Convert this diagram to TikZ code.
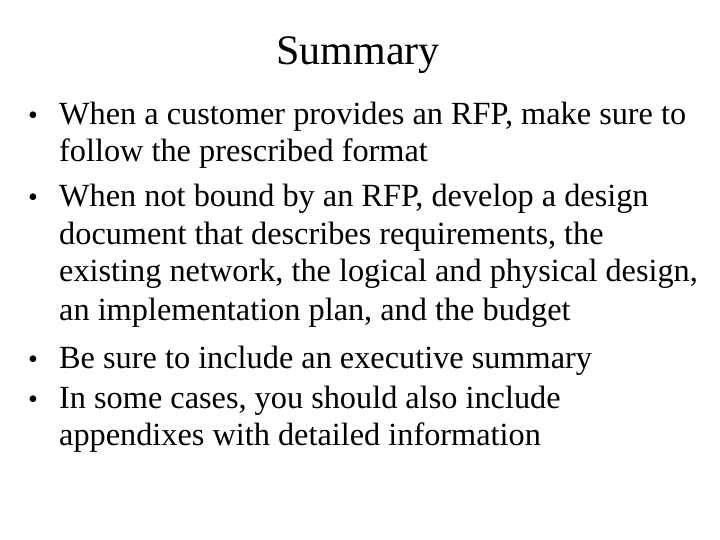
\documentclass[tikz,border=0pt]{standalone}
\usepackage{fontspec}
\setmainfont{Liberation Serif}
\begin{document}
\begin{tikzpicture}[x=1pt,y=-1pt,
  ln/.style={anchor=base west,inner sep=0pt,font=\fontsize{32.3}{34}\selectfont},
  bul/.style={anchor=base west,inner sep=0pt,font=\fontsize{28}{30}\selectfont}]
\useasboundingbox (0,0) rectangle (720,540);
\node[anchor=base,inner sep=0pt,font=\fontsize{42}{46}\selectfont] (title) at (358,65) {Summary};
\node[bul] (b1) at (28,125) {•};
\node[ln] (l1) at (59,125) {When a customer provides an RFP, make sure to};
\node[ln] (l2) at (59,162) {follow the prescribed format};
\node[bul] (b2) at (28,207) {•};
\node[ln] (l3) at (59,207) {When not bound by an RFP, develop a design};
\node[ln] (l4) at (59,244) {document that describes requirements, the};
\node[ln] (l5) at (59,281) {existing network, the logical and physical design,};
\node[ln] (l6) at (59,320) {an implementation plan, and the budget};
\node[bul] (b3) at (28,368) {•};
\node[ln] (l7) at (59,368) {Be sure to include an executive summary};
\node[bul] (b4) at (28,408) {•};
\node[ln] (l8) at (59,408) {In some cases, you should also include};
\node[ln] (l9) at (59,445) {appendixes with detailed information};
\end{tikzpicture}
\end{document}
